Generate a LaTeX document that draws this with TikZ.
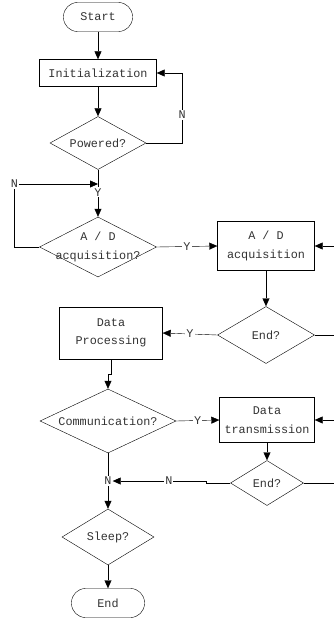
\documentclass[tikz,border=0pt]{standalone}
\usepackage{fontspec}
\setmonofont{Liberation Mono}
\usepackage{tikz}
\usetikzlibrary{arrows.meta,shapes.geometric}

\begin{document}
\begin{tikzpicture}[x=1pt,y=-1pt,->,>={Triangle[length=8pt,width=7pt]},thin,
  every node/.style={font=\ttfamily\fontsize{11.8}{18.5}\selectfont,text=black!80},
  term node/.style={draw=black,rectangle,rounded corners=14pt,inner sep=0pt,
        minimum width=#1,minimum height=29pt},
  proc node/.style 2 args={draw=black,rectangle,inner sep=0pt,align=center,
        minimum width=#1,minimum height=#2},
  dec node/.style 2 args={draw=black,diamond,inner sep=0pt,
        minimum width=#1,minimum height=#2},
  dec text/.style={align=center,inner sep=0pt},
  lab node/.style={fill=white,inner sep=1pt}]
  \useasboundingbox (0,0) rectangle (333,618);

  \node[term node=69pt] (start) at (98,17) {Start};
  \node[proc node={117pt}{27pt}] (init) at (98,73) {Initialization};
  \node[dec node={96pt}{53pt},label={[dec text]center:Powered?}] (pow) at (98,143) {};
  \coordinate (jy) at (98,184);
  \node[dec node={117pt}{60pt},label={[dec text]center:A / D\\acquisition?}] (adq) at (98,247) {};
  \node[proc node={97pt}{49pt}] (adbox) at (266,246) {A / D\\acquisition};
  \node[dec node={97pt}{57pt},label={[dec text]center:End?}] (end1) at (266,335) {};
  \node[proc node={103pt}{52pt}] (dp) at (111,333) {Data\\Processing};
  \node[dec node={136pt}{64pt},label={[dec text]center:Communication?}] (comm) at (108,421) {};
  \node[proc node={95pt}{45pt}] (dt) at (267,420) {Data\\transmission};
  \node[dec node={73pt}{45pt},label={[dec text]center:End?}] (end2) at (267,483) {};
  \node[lab node] (jn) at (108,481) {N};
  \node[dec node={92pt}{56pt},label={[dec text]center:Sleep?}] (sleep) at (108,537) {};
  \node[term node=73pt] (end) at (108,603) {End};

  \draw (start) -- (init);
  \draw (init) -- (pow);
  \draw (pow.east) -- ++(36,0) |- node[lab node,pos=0.2] {N} (init.east);
  \draw[-] (pow.south) -- (jy);
  \draw (jy) -- node[lab node,pos=0.25] {Y} (adq.north);
  \draw (adq.west) -- ++(-25,0) |- node[lab node,pos=0.5] {N} (jy);
  \draw (adq.east) -- node[lab node] {Y} (adbox.west);
  \draw (adbox) -- (end1);
  \draw (end1.east) -- ++(30,0) |- (adbox.east);
  \draw (end1.west) -- node[lab node] {Y} (dp.east);
  \draw (dp.south) -- ++(0,15) -| (comm.north);
  \draw (comm.east) -- node[lab node] {Y} (dt.west);
  \draw (dt) -- (end2);
  \draw (end2.east) -- ++(30,0) |- (dt.east);
  \draw (end2.west) -- ++(-24,0) -- ++(0,-2) -- node[lab node,pos=0.4] {N} (jn.east);
  \draw[-] (comm.south) -- (jn.north);
  \draw (jn.south) -- (sleep.north);
  \draw (sleep) -- (end);
\end{tikzpicture}
\end{document}
